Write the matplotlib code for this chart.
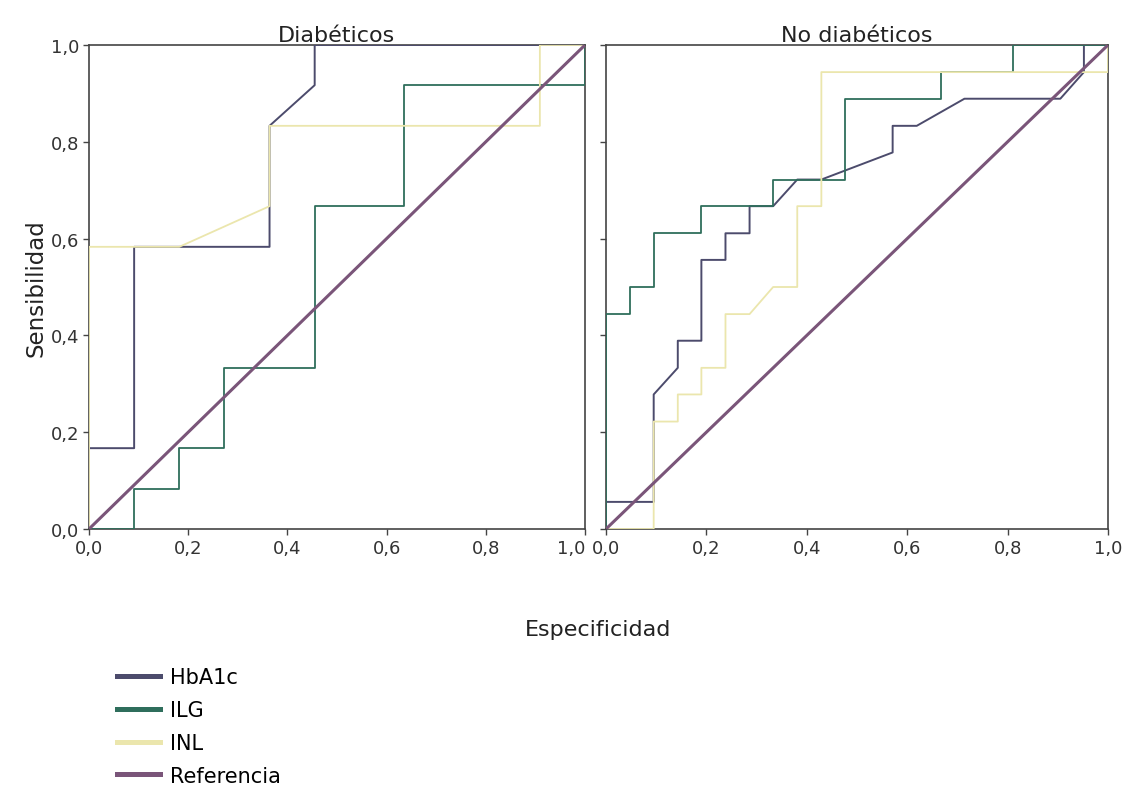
import matplotlib
matplotlib.use("Agg")
import matplotlib.pyplot as plt
from matplotlib.lines import Line2D
from matplotlib.ticker import FuncFormatter

# --- curvas ROC, grupo diabéticos ---
hba1c_d_x = [0, 0, 0.091, 0.091, 0.364, 0.364, 0.455, 0.455, 1.0]
hba1c_d_y = [0, 0.167, 0.167, 0.583, 0.583, 0.833, 0.917, 1.0, 1.0]

ilg_d_x = [0, 0.091, 0.091, 0.182, 0.182, 0.273, 0.273, 0.455, 0.455, 0.636, 0.636, 1.0, 1.0]
ilg_d_y = [0, 0, 0.083, 0.083, 0.167, 0.167, 0.333, 0.333, 0.667, 0.667, 0.917, 0.917, 1.0]

inl_d_x = [0, 0, 0.182, 0.364, 0.364, 0.909, 0.909, 1.0]
inl_d_y = [0, 0.583, 0.583, 0.667, 0.833, 0.833, 1.0, 1.0]

# --- curvas ROC, grupo no diabéticos ---
hba1c_n_x = [0, 0, 0.095, 0.095, 0.143, 0.143, 0.190, 0.190, 0.238, 0.238, 0.286, 0.286,
             0.333, 0.381, 0.429, 0.571, 0.571, 0.619, 0.714, 0.905, 0.952, 0.952, 1.0]
hba1c_n_y = [0, 0.056, 0.056, 0.278, 0.333, 0.389, 0.389, 0.556, 0.556, 0.611, 0.611, 0.667,
             0.667, 0.722, 0.722, 0.778, 0.833, 0.833, 0.889, 0.889, 0.944, 1.0, 1.0]

ilg_n_x = [0, 0, 0.048, 0.048, 0.095, 0.095, 0.190, 0.190, 0.333, 0.333, 0.476, 0.476,
           0.667, 0.667, 0.810, 0.810, 1.0]
ilg_n_y = [0, 0.444, 0.444, 0.5, 0.5, 0.611, 0.611, 0.667, 0.667, 0.722, 0.722, 0.889,
           0.889, 0.944, 0.944, 1.0, 1.0]

inl_n_x = [0, 0.095, 0.095, 0.143, 0.143, 0.190, 0.190, 0.238, 0.238, 0.286, 0.333, 0.381,
           0.381, 0.429, 0.429, 1.0, 1.0]
inl_n_y = [0, 0, 0.222, 0.222, 0.278, 0.278, 0.333, 0.333, 0.444, 0.444, 0.5, 0.5,
           0.667, 0.667, 0.944, 0.944, 1.0]

ref_x = [0, 1]
ref_y = [0, 1]

ticks = [0.0, 0.2, 0.4, 0.6, 0.8, 1.0]
series = ["HbA1c", "ILG", "INL", "Referencia"]
colores = {"HbA1c": "#4c4b6c", "ILG": "#2f6e5c", "INL": "#ebe6ad", "Referencia": "#7a5579"}

plt.rcParams["font.family"] = ["DejaVu Sans"]
TXT = 16      # títulos y ejes
LEG = 15
TICK = 13

fig = plt.figure(figsize=(11.29, 8.03), dpi=100)
axL = fig.add_axes([89 / 1129, 1 - 530 / 803, 496 / 1129, 484 / 803])
axR = fig.add_axes([606 / 1129, 1 - 530 / 803, 502 / 1129, 484 / 803])

fmt = FuncFormatter(lambda v, p: f"{v:.1f}".replace(".", ","))

paneles = [
    (axL, "Diabéticos", hba1c_d_x, hba1c_d_y, ilg_d_x, ilg_d_y, inl_d_x, inl_d_y),
    (axR, "No diabéticos", hba1c_n_x, hba1c_n_y, ilg_n_x, ilg_n_y, inl_n_x, inl_n_y),
]
for ax, titulo, hx, hy, gx, gy, nx, ny in paneles:
    ax.plot(hx, hy, color=colores["HbA1c"], lw=1.4, zorder=3)
    ax.plot(gx, gy, color=colores["ILG"], lw=1.3, zorder=4)
    ax.plot(nx, ny, color=colores["INL"], lw=1.3, zorder=5)
    ax.plot(ref_x, ref_y, color=colores["Referencia"], lw=2.2, zorder=6)
    ax.set_xlim(0, 1)
    ax.set_ylim(0, 1)
    ax.set_xticks(ticks)
    ax.set_yticks(ticks)
    ax.xaxis.set_major_formatter(fmt)
    ax.yaxis.set_major_formatter(fmt)
    ax.tick_params(direction="out", length=4, width=1, color="#444444",
                   labelcolor="#333333", labelsize=TICK, pad=3)
    for s in ax.spines.values():
        s.set_color("#444444")
        s.set_linewidth(1.2)
    ax.set_title(titulo, fontsize=TXT, color="#222222", pad=2)

axR.tick_params(labelleft=False)
# el último rótulo del panel izquierdo se pega al primero del derecho ("1,00,0")
fig.canvas.draw()
axL.get_xticklabels()[-1].set_horizontalalignment("right")
axL.get_xticklabels()[-1].set_x(1.005)

axL.set_ylabel("Sensibilidad", fontsize=TXT + 0.5, color="#222222", labelpad=2)
fig.text(598 / 1129, 1 - 630 / 803, "Especificidad", ha="center", va="center",
         fontsize=TXT, color="#222222")

handles = [Line2D([0], [0], color=colores[s], lw=3.6) for s in series]
fig.legend(handles, series, loc="upper left", bbox_to_anchor=(117 / 1129, 1 - 668 / 803),
           frameon=False, borderpad=0, borderaxespad=0, handlelength=2.05,
           handletextpad=0.48, labelspacing=0.62, fontsize=LEG)

fig.savefig("out.png", dpi=100, facecolor="white")
